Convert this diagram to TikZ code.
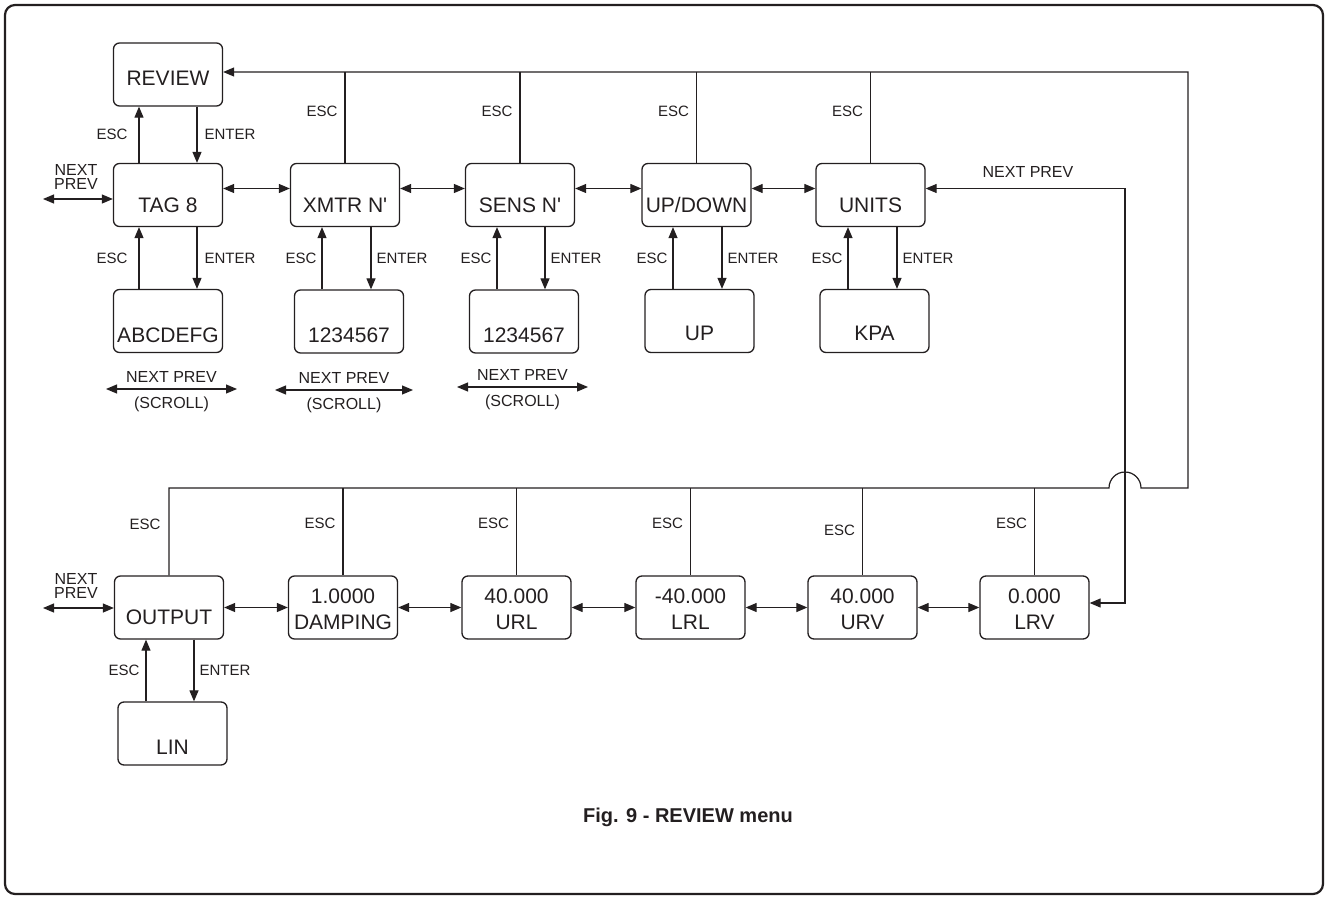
\documentclass[tikz,border=0pt]{standalone}
\usepackage{fontspec}
\setmainfont{Liberation Sans}
\usetikzlibrary{arrows.meta}
\definecolor{ink}{RGB}{35,31,32}
\begin{document}
\begin{tikzpicture}[x=1pt,y=-1pt,color=ink,
  box/.style={draw=ink, line width=1.3pt, rounded corners=6pt, minimum width=109pt, minimum height=63pt, inner sep=0pt},
  lbl/.style={font=\fontsize{21}{26}\selectfont, align=center, inner sep=0pt},
  small/.style={font=\fontsize{15}{18}\selectfont, inner sep=1pt},
  np/.style={font=\fontsize{16}{19}\selectfont, inner sep=1pt},
  conn/.style={draw=ink, line width=1.2pt},
  arr/.style={conn, -{Triangle[length=11pt,width=9pt]}},
  darr/.style={conn, {Triangle[length=11pt,width=9pt]}-{Triangle[length=11pt,width=9pt]}},
]
\useasboundingbox (0,0) rectangle (1328,899);
\draw[ink, line width=2.2pt, rounded corners=10pt] (5,5) rectangle (1323,894);

% ---------- boxes ----------
\node[box] (review) at (168,74.5) {};
\node[lbl] at (168,78) {REVIEW};
\node[box] (tag) at (168,195) {};
\node[lbl] at (168,205) {TAG 8};
\node[box] (xmtr) at (345,195) {};
\node[lbl] at (345,205) {XMTR N\textquotesingle};
\node[box] (sens) at (520,195) {};
\node[lbl] at (520,205) {SENS N\textquotesingle};
\node[box] (updown) at (696.5,195) {};
\node[lbl] at (696.5,205) {UP/DOWN};
\node[box] (units) at (870.5,195) {};
\node[lbl] at (870.5,205) {UNITS};

\node[box] (abc) at (168,321) {};
\node[lbl] at (168,335) {ABCDEFG};
\node[box] (xmtrc) at (349,321.5) {};
\node[lbl] at (349,335) {1234567};
\node[box] (sensc) at (524,321.5) {};
\node[lbl] at (524,335) {1234567};
\node[box] (up) at (699.5,321) {};
\node[lbl] at (699.5,333) {UP};
\node[box] (kpa) at (874.5,321) {};
\node[lbl] at (874.5,333) {KPA};

\node[box] (output) at (169,607.5) {};
\node[lbl] at (169,617) {OUTPUT};
\node[box] (damping) at (343,607.5) {};
\node[lbl] at (343,609) {1.0000\\DAMPING};
\node[box] (url) at (516.5,607.5) {};
\node[lbl] at (516.5,609) {40.000\\URL};
\node[box] (lrl) at (690.5,607.5) {};
\node[lbl] at (690.5,609) {-40.000\\LRL};
\node[box] (urv) at (862.5,607.5) {};
\node[lbl] at (862.5,609) {40.000\\URV};
\node[box] (lrv) at (1034.5,607.5) {};
\node[lbl] at (1034.5,609) {0.000\\LRV};
\node[box] (lin) at (172.5,733.5) {};
\node[lbl] at (172.5,747) {LIN};

% ---------- ESC / ENTER vertical arrows ----------
\draw[arr] ([xshift=-29pt]tag.north) -- node[small,left=10pt]{ESC} ([xshift=-29pt]review.south);
\draw[arr] ([xshift=29pt]review.south) -- node[small,right=6pt]{ENTER} ([xshift=29pt]tag.north);

\draw[arr] ([xshift=-29pt]abc.north) -- node[small,left=10pt]{ESC} ([xshift=-29pt]tag.south);
\draw[arr] ([xshift=29pt]tag.south) -- node[small,right=6pt]{ENTER} ([xshift=29pt]abc.north);

\draw[arr] ([xshift=-27pt]xmtrc.north) -- node[small,left=4pt]{ESC} ([xshift=-23pt]xmtr.south);
\draw[arr] ([xshift=26pt]xmtr.south) -- node[small,right=4pt]{ENTER} ([xshift=22pt]xmtrc.north);

\draw[arr] ([xshift=-27pt]sensc.north) -- node[small,left=4pt]{ESC} ([xshift=-23pt]sens.south);
\draw[arr] ([xshift=25pt]sens.south) -- node[small,right=4pt]{ENTER} ([xshift=21pt]sensc.north);

\draw[arr] ([xshift=-26.5pt]up.north) -- node[small,left=4pt]{ESC} ([xshift=-23.5pt]updown.south);
\draw[arr] ([xshift=25.5pt]updown.south) -- node[small,right=4pt]{ENTER} ([xshift=22.5pt]up.north);

\draw[arr] ([xshift=-26.5pt]kpa.north) -- node[small,left=4pt]{ESC} ([xshift=-22.5pt]units.south);
\draw[arr] ([xshift=26.5pt]units.south) -- node[small,right=4pt]{ENTER} ([xshift=22.5pt]kpa.north);

\draw[arr] ([xshift=-26.5pt]lin.north) -- node[small,left=5pt]{ESC} ([xshift=-23pt]output.south);
\draw[arr] ([xshift=25pt]output.south) -- node[small,right=4pt]{ENTER} ([xshift=21.5pt]lin.north);

% ---------- horizontal NEXT/PREV arrows ----------
\draw[darr] ([yshift=6.5pt]tag.east) -- ([yshift=6.5pt]xmtr.west);
\draw[darr] ([yshift=6.5pt]xmtr.east) -- ([yshift=6.5pt]sens.west);
\draw[darr] ([yshift=6.5pt]sens.east) -- ([yshift=6.5pt]updown.west);
\draw[darr] ([yshift=6.5pt]updown.east) -- ([yshift=6.5pt]units.west);

\draw[darr] (output.east) -- (damping.west);
\draw[darr] (damping.east) -- (url.west);
\draw[darr] (url.east) -- (lrl.west);
\draw[darr] (lrl.east) -- (urv.west);
\draw[darr] (urv.east) -- (lrv.west);

% left NEXT/PREV
\coordinate (lt) at (43,199);
\draw[darr] (lt) -- (lt -| tag.west);
\node[np, align=center, font=\fontsize{16}{14.5}\selectfont] at (76,177) {NEXT\\PREV};
\coordinate (lb) at (43,608);
\draw[darr] (lb) -- (lb -| output.west);
\node[np, align=center, font=\fontsize{16}{14.5}\selectfont] at (76,586) {NEXT\\PREV};

% right NEXT/PREV
\coordinate (rt) at (1125,188.5);
\coordinate (rb) at (1125,603);
\draw[darr] (rt -| units.east) -- (rt) -- (rb) -- (rb -| lrv.east);
\node[np] at (1028,172) {NEXT PREV};

% scroll arrows
\coordinate (s1l) at (106,389); \coordinate (s1r) at (237,389);
\draw[darr] (s1l) -- node[np,above=5pt]{NEXT PREV} node[np,below=6.5pt]{(SCROLL)} (s1r);
\coordinate (s2l) at (275,390); \coordinate (s2r) at (413,390);
\draw[darr] (s2l) -- node[np,above=5pt]{NEXT PREV} node[np,below=6.5pt]{(SCROLL)} (s2r);
\coordinate (s3l) at (457,387); \coordinate (s3r) at (588,387);
\draw[darr] (s3l) -- node[np,above=5pt]{NEXT PREV} node[np,below=6.5pt]{(SCROLL)} (s3r);

% ---------- ESC return loop ----------
\coordinate (tr) at (1188,72);
\coordinate (br) at (1188,488);
\coordinate (hopl) at (1109,488);
\draw[arr] (output.north) -- node[small,pos=0.58,left=7pt]{ESC} (output.north |- br)
  -- (hopl) arc[start angle=180,end angle=0,radius=16pt] -- (br) -- (tr) -- (tr -| review.east);

\draw[conn] (xmtr.north |- tr) -- node[small,pos=0.43,left=6pt]{ESC} (xmtr.north);
\draw[conn] (sens.north |- tr) -- node[small,pos=0.43,left=6pt]{ESC} (sens.north);
\draw[conn] (updown.north |- tr) -- node[small,pos=0.43,left=6pt]{ESC} (updown.north);
\draw[conn] (units.north |- tr) -- node[small,pos=0.43,left=6pt]{ESC} (units.north);

\draw[conn] (damping.north |- br) -- node[small,pos=0.41,left=6pt]{ESC} (damping.north);
\draw[conn] (url.north |- br) -- node[small,pos=0.41,left=6pt]{ESC} (url.north);
\draw[conn] (lrl.north |- br) -- node[small,pos=0.41,left=6pt]{ESC} (lrl.north);
\draw[conn] (urv.north |- br) -- node[small,pos=0.48,left=6pt]{ESC} (urv.north);
\draw[conn] (lrv.north |- br) -- node[small,pos=0.41,left=6pt]{ESC} (lrv.north);

% caption
\node[font=\bfseries\fontsize{20}{24}\selectfont] (cap) at (688,817) {Fig. 9 - REVIEW menu};
\end{tikzpicture}
\end{document}
